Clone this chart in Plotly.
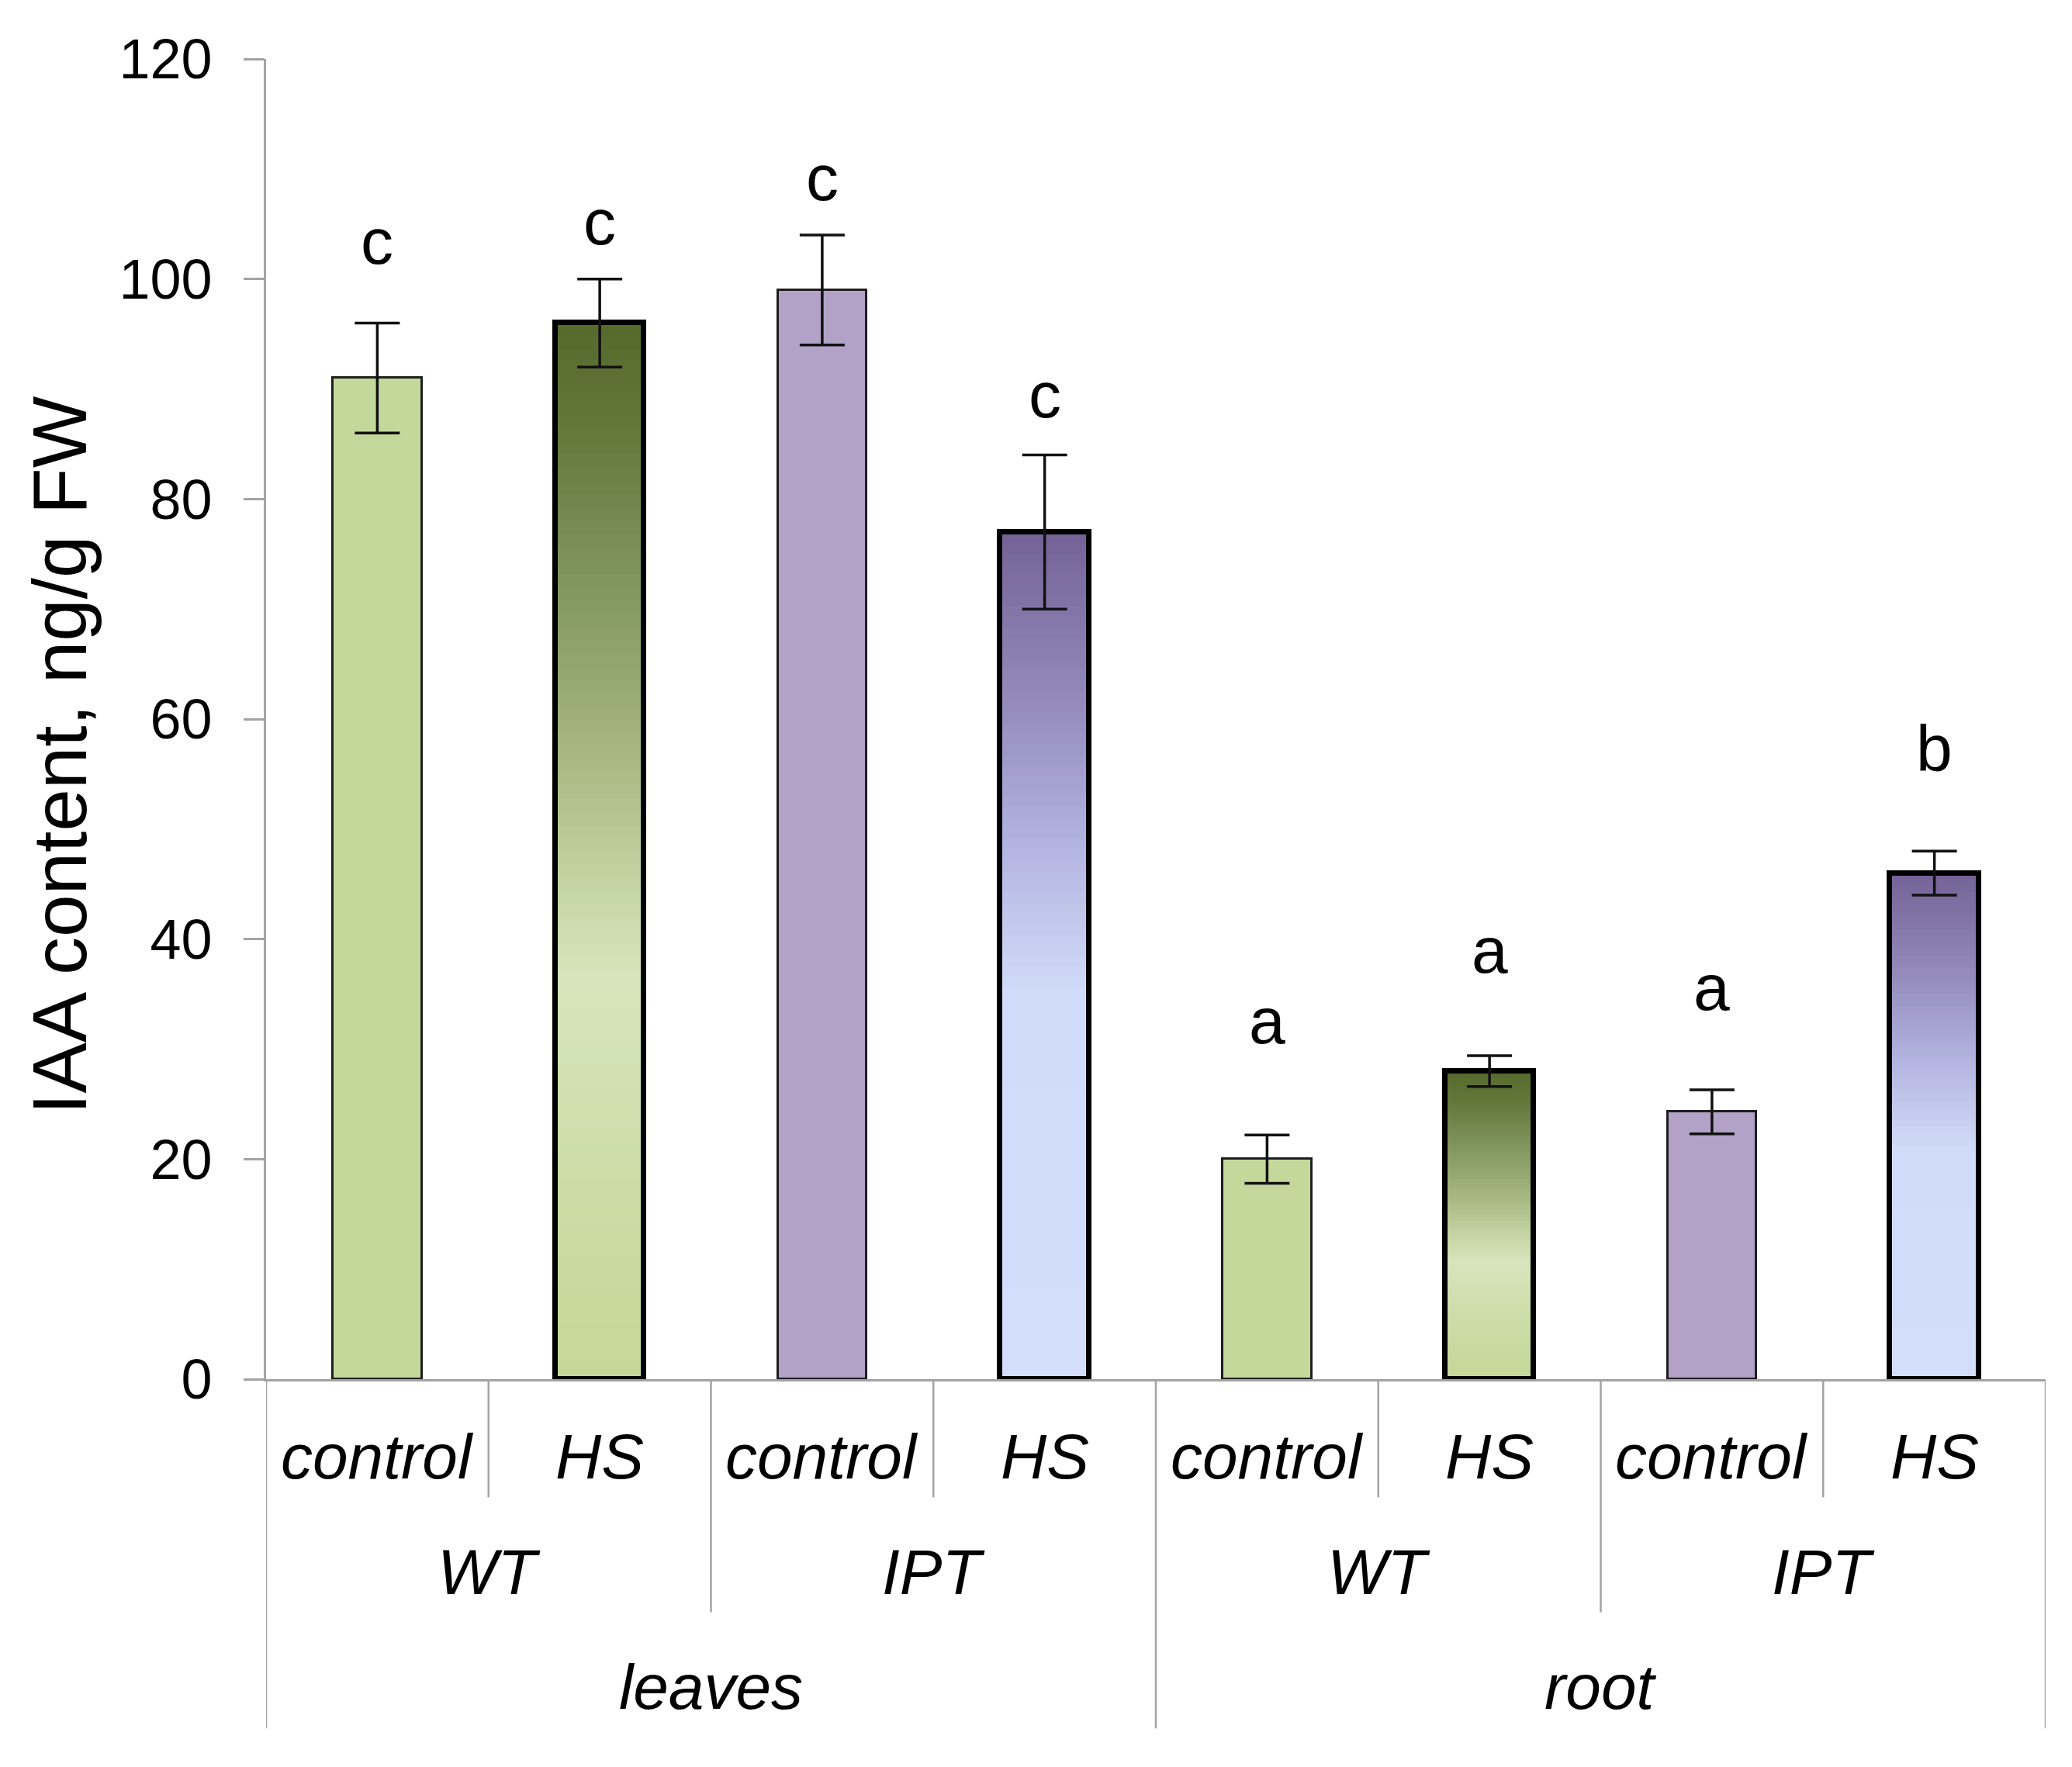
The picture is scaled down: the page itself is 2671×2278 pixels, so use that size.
import plotly.graph_objects as go

# ---------------- data ----------------
tissue = ["leaves", "leaves", "leaves", "leaves", "root", "root", "root", "root"]
genotype = ["WT", "WT", "IPT", "IPT", "WT", "WT", "IPT", "IPT"]
treatment = ["control", "HS", "control", "HS", "control", "HS", "control", "HS"]
iaa_mean = [91, 96, 99, 77, 20, 28, 24.3, 46]
iaa_sd = [5, 4, 5, 7, 2.2, 1.4, 2, 2]
letters = ["c", "c", "c", "c", "a", "a", "a", "b"]
y_ticks = [0, 20, 40, 60, 80, 100, 120]

# ---------------- style ----------------
FONT = "Arial, Liberation Sans, sans-serif"
GRAY = "#a3a3a3"
ctrl_color = {"WT": "rgb(197,216,155)", "IPT": "rgb(179,162,200)"}
hs_scale = {
    "WT": [(0.0, (197, 215, 152)), (0.2, (205, 221, 168)), (0.38, (216, 229, 188)),
           (0.5, (190, 205, 155)), (0.6, (165, 182, 128)), (0.75, (130, 150, 95)),
           (0.9, (100, 120, 60)), (1.0, (85, 105, 45))],
    "IPT": [(0.0, (210, 222, 250)), (0.45, (208, 220, 250)), (0.52, (198, 205, 240)),
            (0.65, (175, 175, 220)), (0.8, (148, 138, 188)), (1.0, (116, 98, 150))],
}
# gap (in axis units) between error-bar top and letter centre, per bar
letter_gap = [7.4, 5.2, 5.2, 5.5, 10.4, 9.6, 9.3, 9.3]
BAR_W = 0.4
N_BANDS = 80


def color_at(scale, f):
    for (f0, c0), (f1, c1) in zip(scale[:-1], scale[1:]):
        if f0 <= f <= f1:
            t = (f - f0) / (f1 - f0) if f1 > f0 else 0
            c = [round(a + (b - a) * t) for a, b in zip(c0, c1)]
            return "rgb({},{},{})".format(*c)
    c = scale[-1][1]
    return "rgb({},{},{})".format(*c)


xpos = list(range(len(treatment)))
ctrl_idx = [i for i in xpos if treatment[i] == "control"]
hs_idx = [i for i in xpos if treatment[i] == "HS"]

fig = go.Figure()

# control bars (solid)
fig.add_trace(go.Bar(
    x=[xpos[i] for i in ctrl_idx], y=[iaa_mean[i] for i in ctrl_idx],
    width=BAR_W,
    marker=dict(color=[ctrl_color[genotype[i]] for i in ctrl_idx],
                line=dict(color="#1e1e1e", width=3)),
    error_y=dict(type="data", array=[iaa_sd[i] for i in ctrl_idx],
                 color="#111111", thickness=3.5, width=29),
    showlegend=False, hoverinfo="skip",
))

# HS bars: vertical gradient built from overlaid bars of decreasing height
for k in range(N_BANDS, 0, -1):
    frac = k / N_BANDS
    fc = (k - 0.5) / N_BANDS
    fig.add_trace(go.Bar(
        x=[xpos[i] for i in hs_idx],
        y=[iaa_mean[i] * frac for i in hs_idx],
        width=BAR_W,
        marker=dict(color=[color_at(hs_scale[genotype[i]], fc) for i in hs_idx],
                    line=dict(width=0)),
        showlegend=False, hoverinfo="skip",
    ))

# HS bar outlines + error bars
fig.add_trace(go.Bar(
    x=[xpos[i] for i in hs_idx], y=[iaa_mean[i] for i in hs_idx],
    width=BAR_W,
    marker=dict(color="rgba(0,0,0,0)", line=dict(color="#000000", width=7)),
    error_y=dict(type="data", array=[iaa_sd[i] for i in hs_idx],
                 color="#111111", thickness=3.5, width=29),
    showlegend=False, hoverinfo="skip",
))

annotations = []
# significance letters
for i in xpos:
    annotations.append(dict(
        x=xpos[i], y=iaa_mean[i] + iaa_sd[i] + letter_gap[i],
        xref="x", yref="y", text=letters[i], showarrow=False,
        font=dict(family=FONT, size=84, color="#000000"),
        xanchor="center", yanchor="middle"))

# hierarchical category labels
ROW_Y = [-0.0585, -0.146, -0.233]
LINE_Y = [-0.0895, -0.1765, -0.2645]
lab_font = dict(family=FONT, size=82, color="#000000", style="italic")
for i in xpos:
    annotations.append(dict(x=xpos[i], y=ROW_Y[0], xref="x", yref="paper",
                            text=treatment[i], showarrow=False, font=lab_font,
                            xanchor="center", yanchor="middle"))


def groups(keys):
    out = []
    start = 0
    for i in range(1, len(keys) + 1):
        if i == len(keys) or keys[i] != keys[start]:
            out.append((keys[start], start, i - 1))
            start = i
    return out


geno_keys = [(tissue[i], genotype[i]) for i in xpos]
for key, a, b in groups(geno_keys):
    annotations.append(dict(x=(a + b) / 2, y=ROW_Y[1], xref="x", yref="paper",
                            text=key[1], showarrow=False, font=lab_font,
                            xanchor="center", yanchor="middle"))
for key, a, b in groups(tissue):
    annotations.append(dict(x=(a + b) / 2, y=ROW_Y[2], xref="x", yref="paper",
                            text=key, showarrow=False, font=lab_font,
                            xanchor="center", yanchor="middle"))

# y-axis title
annotations.append(dict(x=-0.116, y=0.473, xref="paper", yref="paper",
                        text="IAA content, ng/g FW", showarrow=False, textangle=-90,
                        font=dict(family=FONT, size=98, color="#000000"),
                        xanchor="center", yanchor="middle"))

# divider lines
shapes = []
tissue_bounds = set()
geno_bounds = set()
for key, a, b in groups(tissue):
    tissue_bounds.update([a - 0.5, b + 0.5])
for key, a, b in groups(geno_keys):
    geno_bounds.update([a - 0.5, b + 0.5])
for i in range(len(xpos) + 1):
    xb = i - 0.5
    if xb in tissue_bounds:
        y1 = LINE_Y[2]
    elif xb in geno_bounds:
        y1 = LINE_Y[1]
    else:
        y1 = LINE_Y[0]
    shapes.append(dict(type="line", xref="x", yref="paper", x0=xb, x1=xb,
                       y0=0, y1=y1, line=dict(color=GRAY, width=2.5)))

fig.update_layout(
    width=2671, height=2278,
    margin=dict(l=335, r=42, t=68, b=508),
    paper_bgcolor="white", plot_bgcolor="white",
    barmode="overlay",
    bargap=0,
    showlegend=False,
    annotations=annotations,
    shapes=shapes,
    xaxis=dict(range=[-0.5, len(xpos) - 0.5], showticklabels=False, ticks="",
               showgrid=False, zeroline=False, showline=True, linecolor=GRAY,
               linewidth=3, fixedrange=True),
    yaxis=dict(range=[0, 120], tickvals=y_ticks, ticks="outside", ticklen=26,
               tickwidth=3, tickcolor=GRAY, showline=True, linecolor=GRAY,
               linewidth=3, showgrid=False, zeroline=False,
               tickfont=dict(family=FONT, size=72, color="#000000"),
               ticklabelstandoff=26, fixedrange=True),
)

fig.write_html("out.html")
